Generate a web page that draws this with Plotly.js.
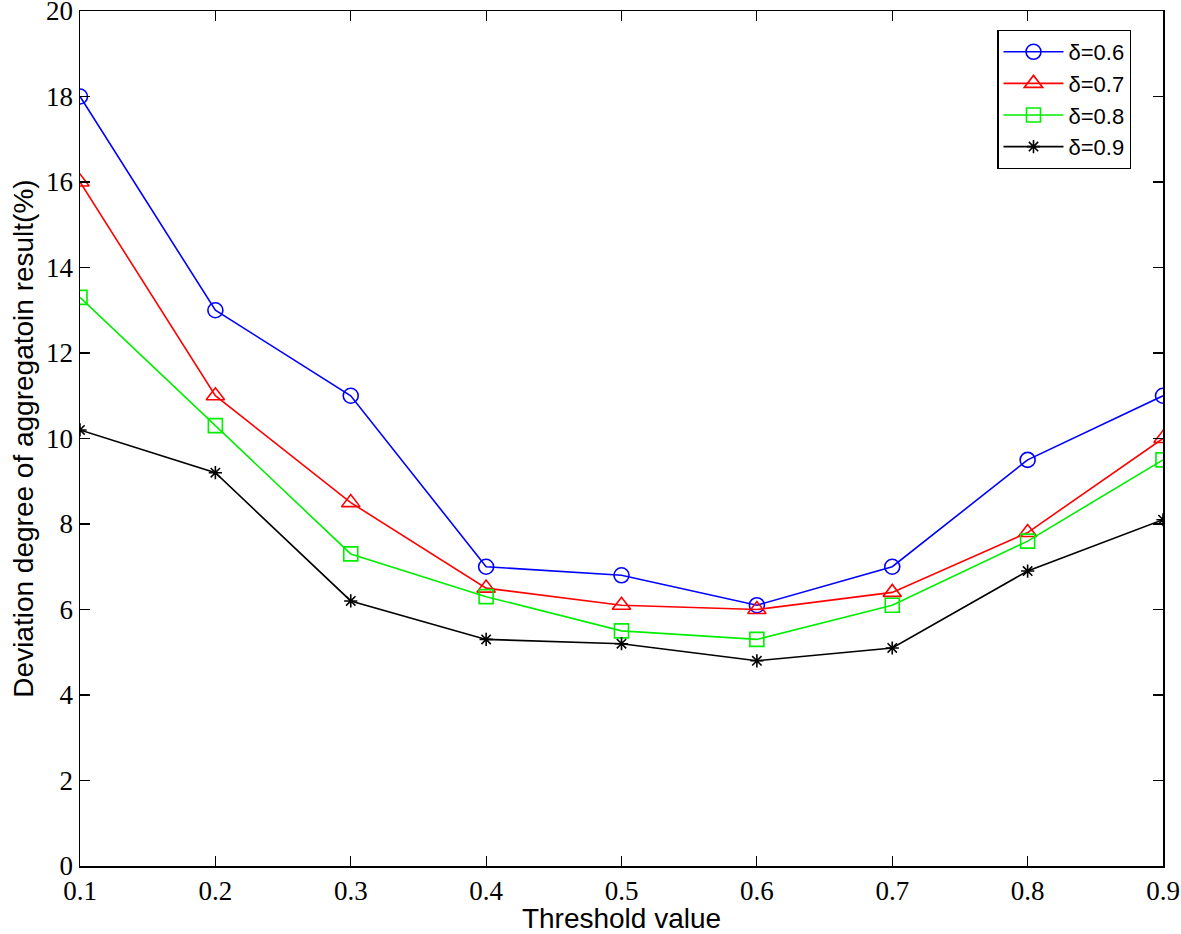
<!DOCTYPE html>
<html>
<head>
<meta charset="utf-8">
<script src="https://cdn.plot.ly/plotly-3.0.1.min.js"></script>
<style>html,body{margin:0;padding:0;background:#fff;}#chart{width:1181px;height:934px;}</style>
</head>
<body>
<div id="chart"></div>
<script>
const thresholds = [0.1, 0.2, 0.3, 0.4, 0.5, 0.6, 0.7, 0.8, 0.9];
const delta06 = [18.0, 13.0, 11.0, 7.0, 6.8, 6.1, 7.0, 9.5, 11.0];
const delta07 = [16.0, 11.0, 8.5, 6.5, 6.1, 6.0, 6.4, 7.8, 10.0];
const delta08 = [13.3, 10.3, 7.3, 6.3, 5.5, 5.3, 6.1, 7.6, 9.5];
const delta09 = [10.2, 9.2, 6.2, 5.3, 5.2, 4.8, 5.1, 6.9, 8.1];
const seriesNames = ['δ=0.6', 'δ=0.7', 'δ=0.8', 'δ=0.9'];
const xTickLabels = ['0.1','0.2','0.3','0.4','0.5','0.6','0.7','0.8','0.9'];
const yTickValues = [0,2,4,6,8,10,12,14,16,18,20];

const mk = (y, name, color, symbol, size) => ({
  x: thresholds, y: y, name: name, type: 'scatter', mode: 'lines+markers',
  line: {color: color, width: 1.6},
  marker: {symbol: symbol, size: size, color: color, line: {color: color, width: 1.6}}
});

const data = [
  mk(delta06, seriesNames[0], '#0000ff', 'circle-open', 15),
  mk(delta07, seriesNames[1], '#ff0000', 'triangle-up-open', 16),
  mk(delta08, seriesNames[2], '#00ee00', 'square-open', 14),
  mk(delta09, seriesNames[3], '#000000', 'asterisk-open', 11)
];

const axisCommon = {
  showline: true, linecolor: '#000', linewidth: 1.5, mirror: 'ticks',
  ticks: 'inside', ticklen: 10, tickwidth: 1.2, tickcolor: '#000',
  showgrid: false, zeroline: false, ticklabeloverflow: 'allow',
  tickfont: {family: 'Liberation Serif, Times New Roman, serif', size: 27, color: '#000'}
};

const layout = {
  width: 1181, height: 934,
  margin: {l: 80, r: 18, t: 11, b: 68},
  paper_bgcolor: '#fff', plot_bgcolor: '#fff',
  showlegend: true,
  legend: {
    x: 0.847, y: 0.978, xanchor: 'left', yanchor: 'top',
    bordercolor: '#000', borderwidth: 1.2, bgcolor: '#fff',
    font: {family: 'Liberation Sans, Arial, sans-serif', size: 22, color: '#000'},
    tracegroupgap: 0, itemwidth: 60
  },
  xaxis: Object.assign({}, axisCommon, {
    range: [0.1, 0.9], tickvals: thresholds, ticktext: xTickLabels,
    title: {text: 'Threshold value', font: {family: 'Liberation Sans, Arial, sans-serif', size: 28, color: '#000'}, standoff: 2}
  }),
  yaxis: Object.assign({}, axisCommon, {
    range: [0, 20], tickvals: yTickValues,
    title: {text: 'Deviation degree of aggregatoin result(%)', font: {family: 'Liberation Sans, Arial, sans-serif', size: 28, color: '#000'}, standoff: 4}
  })
};

Plotly.newPlot('chart', data, layout, {displayModeBar: false, staticPlot: true});
</script>
</body>
</html>
